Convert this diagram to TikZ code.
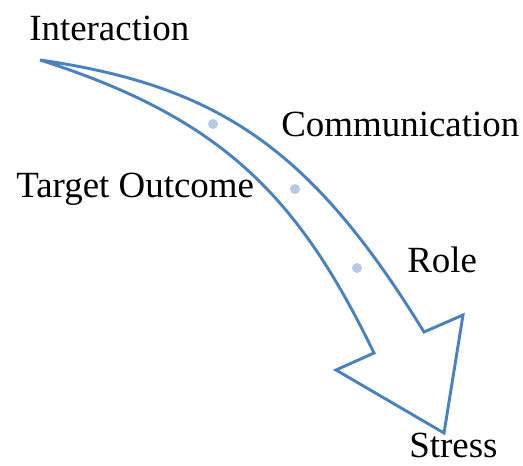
\documentclass[tikz,border=0pt]{standalone}
\usepackage{fontspec}
\setmainfont{Liberation Serif}
\usepackage{xcolor}
\definecolor{arrowblue}{RGB}{74, 130, 192}
\definecolor{dotblue}{RGB}{182, 201, 230}

\begin{document}
\begin{tikzpicture}[
    x=0.75pt, y=-0.75pt,
    every node/.style={font=\fontsize{27.7}{33}\selectfont},
    label/.style={anchor=base west, inner sep=0pt},
    bullet/.style={circle, fill=dotblue, inner sep=0pt, minimum size=7.5pt},
    bigarrow/.style={draw=arrowblue, line width=2.2pt, fill=white, line join=miter}
]
\useasboundingbox (0,0) rectangle (523,466);

% Arrow outline
\coordinate (tail) at (40,60);
\coordinate (notchR) at (424,332);
\coordinate (barbR) at (463,315);
\coordinate (tip) at (444,433);
\coordinate (barbL) at (336,370);
\coordinate (notchL) at (374,353);
\draw[bigarrow] (tail) .. controls (220,86) and (312,150) .. (notchR)
    -- (barbR) -- (tip) -- (barbL) -- (notchL)
    .. controls (298,196) and (222,118) .. (tail) -- cycle;

% Bullets
\node[bullet] (dotcomm) at (213,124) {};
\node[bullet] (dottarget) at (295,189) {};
\node[bullet] (dotrole) at (357,268) {};

% Labels
\node[label] (interaction) at (29,41) {Interaction};
\node[label] (communication) at (281,137) {Communication};
\node[label] (target) at (16,198) {Target Outcome};
\node[label] (role) at (407,272) {Role};
\node[label] (stress) at (409,457) {Stress};

\end{tikzpicture}
\end{document}
